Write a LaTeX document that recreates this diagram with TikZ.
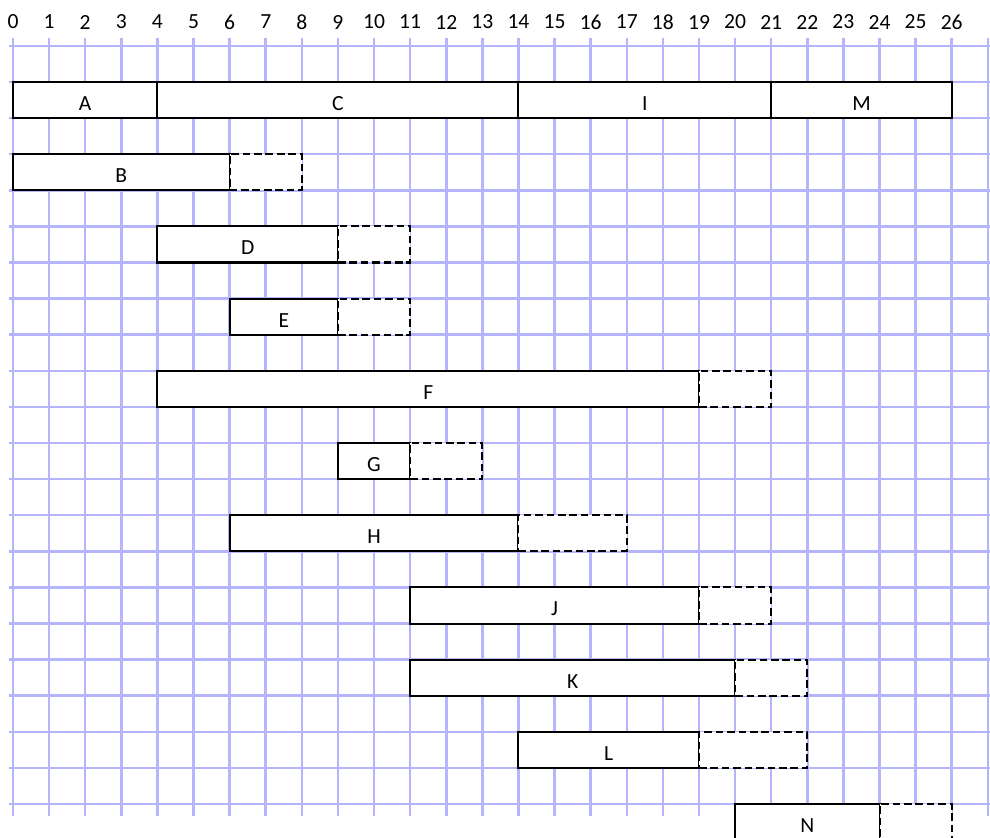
\documentclass[tikz,border=0pt]{standalone}
\usepackage{fontspec}
\setmainfont{Carlito}
\usetikzlibrary{positioning}
\definecolor{grid-blue}{HTML}{B4B4FF}

\begin{document}
\begin{tikzpicture}[
			gridline/.style={draw=grid-blue, line width=2pt},
			task/.style={
				draw=black, fill=white, line width=1.6pt,
				minimum height=1cm, inner sep=0pt, outer sep=0pt,
				anchor=west, text height=16.5pt, text depth=0pt,
				font=\fontsize{17}{20}\selectfont
			},
			slack/.style={
				task, dash pattern=on 6pt off 3pt
			},
			daynum/.style={
				inner sep=0pt,
				font=\fontsize{17}{20}\selectfont
			}
			]
			
			\useasboundingbox (-0.36,1.27) rectangle (27.06,-21.93);
			
			% grid paper
			\foreach \k in {0,...,21}
				\draw[gridline] (-0.1,-\k) -- (27.2,-\k);
			\foreach \i in {0,...,27}
				\draw[gridline] (\i,0.22) -- (\i,-21.33);
			\foreach \i in {0,...,26}
				\node[daynum] (d\i) at (\i,0.66) {\i};
			
			\def\ypos{-1.5}
			\def\ystep{-2}
			
			\node[task, minimum width=4cm] (A) at (0,\ypos) {A};
			\node[task, minimum width=10cm] (C) at (A.east) {C};
			\node[task, minimum width=7cm] (I) at (C.east) {I};
			\node[task, minimum width=5cm] (M) at (I.east) {M};
			
			\pgfmathsetmacro\ypos{\ypos+\ystep}
			\node[task, minimum width=6cm] (B) at (0,\ypos) {B};
			\node[slack, minimum width=2cm] (Bs) at (B.east) {};
			
			\pgfmathsetmacro\ypos{\ypos+\ystep}
			\node[task, minimum width=5cm] (D) at (4,\ypos) {D};
			\node[slack, minimum width=2cm] (Ds) at (D.east) {};
			
			\pgfmathsetmacro\ypos{\ypos+\ystep}
			\node[task, minimum width=3cm] (E) at (6,\ypos) {E};
			\node[slack, minimum width=2cm] (Es) at (E.east) {};
			
			\pgfmathsetmacro\ypos{\ypos+\ystep}
			\node[task, minimum width=15cm] (F) at (4,\ypos) {F};
			\node[slack, minimum width=2cm] (Fs) at (F.east) {};
			
			\pgfmathsetmacro\ypos{\ypos+\ystep}
			\node[task, minimum width=2cm] (G) at (9,\ypos) {G};
			\node[slack, minimum width=2cm] (Gs) at (G.east) {};
			
			\pgfmathsetmacro\ypos{\ypos+\ystep}
			\node[task, minimum width=8cm] (H) at (6,\ypos) {H};
			\node[slack, minimum width=3cm] (Hs) at (H.east) {};
			
			\pgfmathsetmacro\ypos{\ypos+\ystep}
			\node[task, minimum width=8cm] (J) at (11,\ypos) {J};
			\node[slack, minimum width=2cm] (Js) at (J.east) {};
			
			\pgfmathsetmacro\ypos{\ypos+\ystep}
			\node[task, minimum width=9cm] (K) at (11,\ypos) {K};
			\node[slack, minimum width=2cm] (Ks) at (K.east) {};
			
			\pgfmathsetmacro\ypos{\ypos+\ystep}
			\node[task, minimum width=5cm] (L) at (14,\ypos) {L};
			\node[slack, minimum width=3cm] (Ls) at (L.east) {};
			
			\pgfmathsetmacro\ypos{\ypos+\ystep}
			\node[task, minimum width=4cm] (N) at (20,\ypos) {N};
			\node[slack, minimum width=2cm] (Ns) at (N.east) {};
			
		\end{tikzpicture}
\end{document}
